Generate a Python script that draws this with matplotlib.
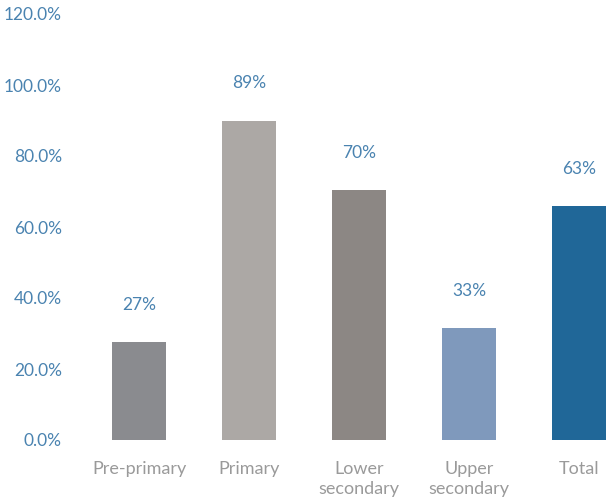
import matplotlib.pyplot as plt

# categories, bar heights as drawn, and the value labels printed above them
categories = ['Pre-primary', 'Primary', 'Lower\nsecondary', 'Upper\nsecondary', 'Total']
values = [27.5, 90.0, 70.3, 31.5, 65.8]
value_labels = ['27%', '89%', '70%', '33%', '63%']
bar_colors = ['#8a8b8f', '#aca8a5', '#8c8784', '#7f99bc', '#206798']
yticks = [0, 20, 40, 60, 80, 100, 120]

blue = '#4a83b0'
grey = '#9a9a9a'
plt.rcParams['font.family'] = ['Lato', 'DejaVu Sans']

fig = plt.figure(figsize=(6.06, 5.03), dpi=100)
ax = fig.add_axes([84 / 606, 63 / 503, 522.5 / 606, 426 / 503])

x = range(len(categories))
ax.bar(x, values, width=0.49, color=bar_colors)

for xi, v, lab in zip(x, values, value_labels):
    ax.annotate(lab, (xi, v), xytext=(0, 27), textcoords='offset points',
                ha='center', va='center', fontsize=12.5, color=blue)

ax.set_xlim(-0.5, 4.25)
ax.set_ylim(0, 120)
ax.set_yticks(yticks)
ax.set_yticklabels(['%.1f%%' % t for t in yticks], color=blue, fontsize=12.5)
ax.set_xticks(list(x))
ax.set_xticklabels(categories, color=grey, fontsize=13, linespacing=1.3)
ax.tick_params(axis='y', length=0, pad=16)
ax.tick_params(axis='x', length=0, pad=15)
for s in ax.spines.values():
    s.set_visible(False)

plt.savefig('out.png', dpi=100)
